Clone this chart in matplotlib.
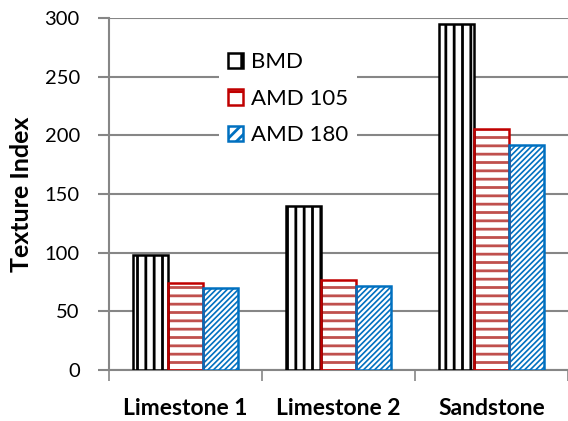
import matplotlib
matplotlib.use("Agg")
import matplotlib.pyplot as plt
from matplotlib.patches import Patch
import numpy as np

categories = ["Limestone 1", "Limestone 2", "Sandstone"]
series_names = ["BMD", "AMD 105", "AMD 180"]
bmd = [98, 140, 295]
amd105 = [74, 77, 205]
amd180 = [70, 72, 192]
yticks = [0, 50, 100, 150, 200, 250, 300]

plt.rcParams['font.family'] = ['Lato', 'DejaVu Sans']
plt.rcParams['hatch.linewidth'] = 2.0

fig = plt.figure(figsize=(5.68, 4.21), dpi=100)
ax = fig.add_axes([109/568, 1 - 370/421, (568 - 109)/568, (370 - 18)/421])

x = np.arange(len(categories))
w = 0.227
styles = [
    dict(hatch='||', hcolor='black', ecolor='black', hlw=2.0, lh='|'),
    dict(hatch='--', hcolor='#C0504D', ecolor='#C00000', hlw=2.0, lh='-'),
    dict(hatch='//////', hcolor='#0070C0', ecolor='#0070C0', hlw=1.2, lh='///'),
]
handles = []
for i, (vals, st) in enumerate(zip([bmd, amd105, amd180], styles)):
    pos = x + (i - 1) * w
    bars = ax.bar(pos, vals, width=w, color='white', edgecolor=st['hcolor'],
                  hatch=st['hatch'], linewidth=0, zorder=3)
    for b in bars:
        b.set_hatch_linewidth(st['hlw'])
    ax.bar(pos, vals, width=w, fill=False, edgecolor=st['ecolor'],
           linewidth=1.8, zorder=4)
    p = Patch(facecolor='white', edgecolor=st['ecolor'], hatch=st['lh'],
              linewidth=1.8, label=series_names[i])
    handles.append(p)

ax.set_xlim(-0.5, 2.5)
ax.set_ylim(0, 300)
ax.set_yticks(yticks)
ax.set_yticklabels([str(v) for v in yticks], fontsize=14.5)
ax.set_xticks(x)
ax.set_xticklabels(categories, fontsize=16.5, fontweight='bold')
ax.tick_params(axis='x', length=0, pad=20)
ax.set_xticks([-0.5, 0.5, 1.5, 2.5], minor=True)
ax.tick_params(axis='x', which='minor', length=8, width=1.2, color='#868686', direction='out')
ax.tick_params(axis='y', length=8, width=1.5, color='#868686', pad=13)
ax.grid(axis='y', color='#868686', linewidth=1.5, zorder=0)
for s in ['top', 'right']:
    ax.spines[s].set_visible(False)
ax.spines['left'].set_color('#868686')
ax.spines['left'].set_linewidth(1.5)
ax.spines['bottom'].set_color('#868686')
ax.spines['bottom'].set_linewidth(1.5)
ax.set_ylabel('Texture Index', fontsize=18, fontweight='bold', labelpad=8)

leg = ax.legend(handles=handles, loc='upper left', bbox_to_anchor=(0.215, 0.96),
                frameon=True, fontsize=16, handlelength=0.7, handleheight=0.7,
                handletextpad=0.35, labelspacing=0.75, borderpad=0.4)
leg.get_frame().set_edgecolor('none')
leg.get_frame().set_facecolor('white')
leg.get_frame().set_alpha(1)
leg.set_zorder(5)

fig.savefig('out.png', dpi=100)
